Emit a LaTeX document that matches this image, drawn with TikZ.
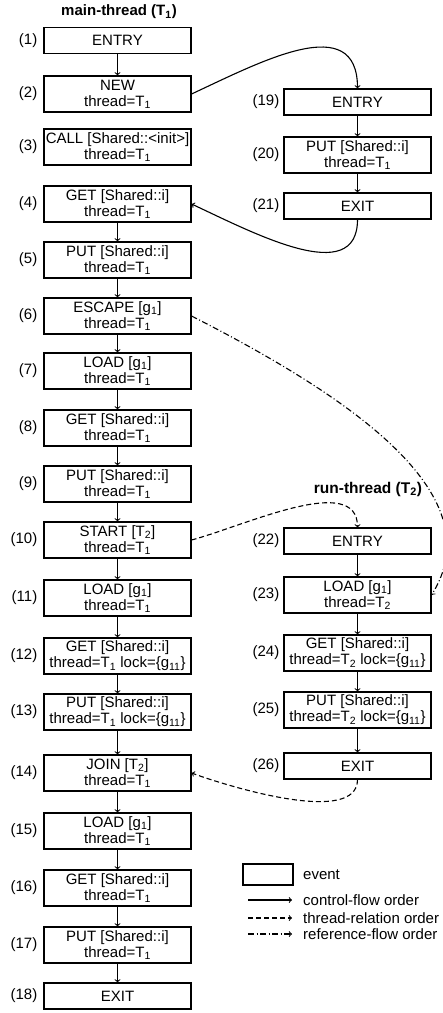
\documentclass[tikz,border=0pt]{standalone}
\usepackage{fontspec}
\setmainfont{Liberation Sans}
\usetikzlibrary{positioning}

\newcommand{\thrd}[1]{thread=T\textsubscript{#1}}
\newcommand{\lck}{lock=\{g\textsubscript{11}\}}

\tikzset{
  event/.style={draw, line width=1.1pt, minimum width=147pt, minimum height=36pt, inner sep=0pt, align=center},
  single/.style={event, minimum height=26pt},
  num/.style={inner sep=0pt},
  title/.style={font=\fontsize{15}{16}\selectfont\bfseries},
  cflow/.style={->, line width=1.1pt},
  trel/.style={->, line width=1.1pt, dash pattern=on 5pt off 3pt},
  rflow/.style={->, line width=1.1pt, dash pattern=on 6pt off 2.5pt on 1pt off 2.5pt},
}

\begin{document}
\begin{tikzpicture}[x=1pt, y=1pt, font=\fontsize{15}{16}\selectfont]
    \useasboundingbox (0,0) rectangle (443,-1013);
    \node[title] (main) at (119,-12) {main-thread (T\textsubscript{1})};
    \node[title, font=\fontsize{15.5}{16}\selectfont\bfseries] (run) at (368,-489) {run-thread (T\textsubscript{2})};
    % main thread
    \node[single] (e1) at (117.5,-40.5) {ENTRY};
    \node[event] (e2) at (117.5,-94) {NEW\\\thrd{1}};
    \node[event] (e3) at (117.5,-147) {CALL [Shared::<init>]\\\thrd{1}};
    \node[event] (e4) at (117.5,-204) {GET [Shared::i]\\\thrd{1}};
    \node[event] (e5) at (117.5,-260) {PUT [Shared::i]\\\thrd{1}};
    \node[event] (e6) at (117.5,-316) {ESCAPE [g\textsubscript{1}]\\\thrd{1}};
    \node[event] (e7) at (117.5,-371) {LOAD [g\textsubscript{1}]\\\thrd{1}};
    \node[event] (e8) at (117.5,-428) {GET [Shared::i]\\\thrd{1}};
    \node[event] (e9) at (117.5,-484) {PUT [Shared::i]\\\thrd{1}};
    \node[event] (e10) at (117.5,-540) {START [T\textsubscript{2}]\\\thrd{1}};
    \node[event] (e11) at (117.5,-598) {LOAD [g\textsubscript{1}]\\\thrd{1}};
    \node[event] (e12) at (117.5,-656) {GET [Shared::i]\\\thrd{1} \lck};
    \node[event] (e13) at (117.5,-712) {PUT [Shared::i]\\\thrd{1} \lck};
    \node[event] (e14) at (117.5,-773) {JOIN [T\textsubscript{2}]\\\thrd{1}};
    \node[event] (e15) at (117.5,-831) {LOAD [g\textsubscript{1}]\\\thrd{1}};
    \node[event] (e16) at (117.5,-888) {GET [Shared::i]\\\thrd{1}};
    \node[event] (e17) at (117.5,-945) {PUT [Shared::i]\\\thrd{1}};
    \node[single] (e18) at (117.5,-996) {EXIT};
    % constructor and run thread
    \node[single] (e19) at (357.5,-102) {ENTRY};
    \node[event] (e20) at (357.5,-155) {PUT [Shared::i]\\\thrd{1}};
    \node[single] (e21) at (357.5,-206) {EXIT};
    \node[single] (e22) at (357.5,-541) {ENTRY};
    \node[event] (e23) at (357.5,-595) {LOAD [g\textsubscript{1}]\\\thrd{2}};
    \node[event] (e24) at (357.5,-653) {GET [Shared::i]\\\thrd{2} \lck};
    \node[event] (e25) at (357.5,-710) {PUT [Shared::i]\\\thrd{2} \lck};
    \node[single] (e26) at (357.5,-766) {EXIT};
    % numbers
    \node[num, left=6pt of e1] (n1) {(1)};
    \node[num, left=6pt of e2] (n2) {(2)};
    \node[num, left=6pt of e3] (n3) {(3)};
    \node[num, left=6pt of e4] (n4) {(4)};
    \node[num, left=6pt of e5] (n5) {(5)};
    \node[num, left=6pt of e6] (n6) {(6)};
    \node[num, left=6pt of e7] (n7) {(7)};
    \node[num, left=6pt of e8] (n8) {(8)};
    \node[num, left=6pt of e9] (n9) {(9)};
    \node[num, left=6pt of e10] (n10) {(10)};
    \node[num, left=6pt of e11] (n11) {(11)};
    \node[num, left=6pt of e12] (n12) {(12)};
    \node[num, left=6pt of e13] (n13) {(13)};
    \node[num, left=6pt of e14] (n14) {(14)};
    \node[num, left=6pt of e15] (n15) {(15)};
    \node[num, left=6pt of e16] (n16) {(16)};
    \node[num, left=6pt of e17] (n17) {(17)};
    \node[num, left=6pt of e18] (n18) {(18)};
    \node[num, left=4pt of e19] (n19) {(19)};
    \node[num, left=4pt of e20] (n20) {(20)};
    \node[num, left=4pt of e21] (n21) {(21)};
    \node[num, left=4pt of e22] (n22) {(22)};
    \node[num, left=4pt of e23] (n23) {(23)};
    \node[num, left=4pt of e24] (n24) {(24)};
    \node[num, left=4pt of e25] (n25) {(25)};
    \node[num, left=4pt of e26] (n26) {(26)};
    % control flow
    \draw[cflow] (e1) edge (e2) (e4) edge (e5) (e5) edge (e6) (e6) edge (e7)
        (e7) edge (e8) (e8) edge (e9) (e9) edge (e10) (e10) edge (e11)
        (e11) edge (e12) (e12) edge (e13) (e13) edge (e14) (e14) edge (e15)
        (e15) edge (e16) (e16) edge (e17) (e17) edge (e18)
        (e19) edge (e20) (e20) edge (e21)
        (e22) edge (e23) (e23) edge (e24) (e24) edge (e25) (e25) edge (e26);
    \draw[cflow] (e2.east) to[out=25, in=90, looseness=1.2] (e19.north);
    \draw[cflow] (e21.south) to[out=-90, in=-25, looseness=1.05] (e4.east);
    % thread relation and reference flow
    \draw[trel] (e10.east) to[out=15, in=90, looseness=0.85] (e22.north);
    \draw[trel] (e26.south) to[out=-90, in=-20, looseness=0.7] (e14.east);
    \draw[rflow] (e6.east) .. controls +(-27:190) and +(58:115) .. (e23.east);
    % legend
    \node[event, minimum width=50pt, minimum height=21pt] (key) at (268,-874.5) {};
    \node[anchor=west, inner sep=0pt] (keyev) at (303,-874.5) {event};
    \coordinate (ka) at (248,-900);
    \coordinate (kb) at (292,-900);
    \coordinate (kc) at (248,-918);
    \coordinate (kd) at (292,-918);
    \coordinate (ke) at (248,-934);
    \coordinate (kf) at (292,-934);
    \draw[cflow] (ka) -- (kb);
    \draw[trel] (kc) -- (kd);
    \draw[rflow] (ke) -- (kf);
    \node[anchor=west, inner sep=0pt] (keycf) at (303,-900) {control-flow order};
    \node[anchor=west, inner sep=0pt] (keytr) at (303,-918) {thread-relation order};
    \node[anchor=west, inner sep=0pt] (keyrf) at (303,-934) {reference-flow order};
\end{tikzpicture}
\end{document}
